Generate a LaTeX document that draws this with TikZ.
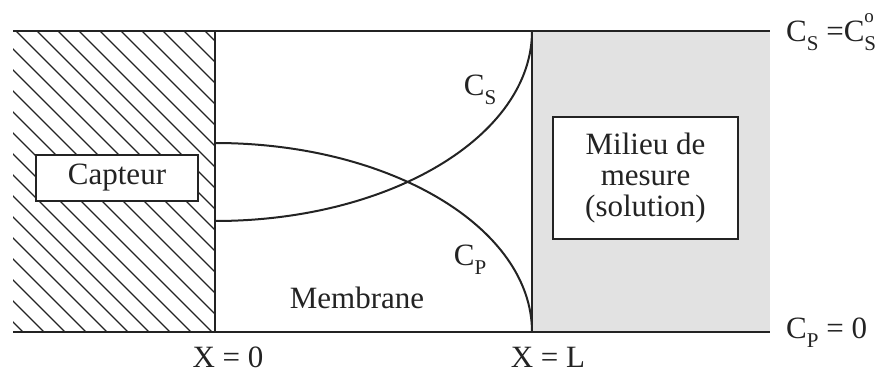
\documentclass[tikz,border=0pt]{standalone}
\usepackage{fontspec}
\setmainfont{Liberation Serif}
\usepackage{tikz}
\usetikzlibrary{positioning}
\definecolor{mShade}{RGB}{226,226,226}
\definecolor{mInk}{RGB}{35,35,35}
\newcommand{\lowsub}[1]{\raisebox{-0.3em}{\fontsize{21}{21}\selectfont #1}}
\newcommand{\highsup}[1]{\raisebox{0.62em}{\fontsize{19}{19}\selectfont #1}}

\begin{document}
\begin{tikzpicture}[x=1pt,y=1pt,
  txt/.style={font=\fontsize{31}{35}\selectfont,text=mInk,inner sep=0pt},
  boxed/.style={draw=mInk,line width=2.4pt,fill=white,align=center,font=\fontsize{31}{35}\selectfont,text=mInk}]
\useasboundingbox (0,0) rectangle (893,376);
% solution side, shaded
\fill[mShade] (532,44) rectangle (770,345);
% sensor side, hatched
\begin{scope}
\clip (13,44) rectangle (215,345);
\foreach \c in {-320,-299,...,240}
  \draw[mInk,line width=1.1pt] (\c,345) -- (\c+301,44);
\end{scope}
% frame
\draw[mInk,line width=2.6pt] (13,345) -- (770,345);
\draw[mInk,line width=2.6pt] (13,44) -- (770,44);
\draw[mInk,line width=2.6pt] (215,44) -- (215,345);
\draw[mInk,line width=2.2pt] (532,44) -- (532,345);
% profiles
\draw[mInk,line width=2pt] (215,233) arc[start angle=90,end angle=0,x radius=317,y radius=189];
\draw[mInk,line width=2pt] (215,155) arc[start angle=270,end angle=360,x radius=317,y radius=190];
% labels
\node[boxed,minimum width=162pt,minimum height=46pt,inner sep=0pt] (capteur) at (117,198) {Capteur};
\node[boxed,minimum width=185pt,minimum height=122pt,inner sep=0pt] (milieu) at (645.5,198) {Milieu de\\[-4pt]mesure\\[-4pt](solution)};
\node[txt] (membrane) at (357,78) {Membrane};
\node[txt] (cs) at (480,286) {C\lowsub{S}};
\node[txt] (cp) at (470,116) {C\lowsub{P}};
\node[txt] (x0) at (228,19) {X = 0};
\node[txt] (xL) at (548,19) {X = L};
\node[txt,anchor=west] (csbound) at (786,344) {C\lowsub{S} =C\rlap{\highsup{o}}\lowsub{S}};
\node[txt,anchor=west] (cpbound) at (786,43) {C\lowsub{P} = 0};
\end{tikzpicture}
\end{document}
